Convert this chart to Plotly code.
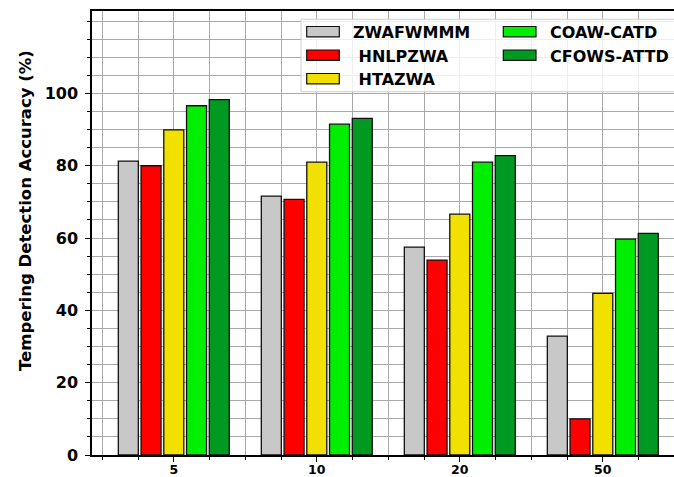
import plotly.graph_objects as go

# Dataset sizes on the x axis and accuracy (%) per method
categories = ["5", "10", "20", "50"]
series_names = ["ZWAFWMMM", " HNLPZWA", " HTAZWA", "COAW-CATD", "CFOWS-ATTD"]
zwafwmmm = [81.3, 71.6, 57.5, 32.9]
hnlpzwa = [80.0, 70.7, 53.9, 10.0]
htazwa = [89.9, 81.0, 66.6, 44.7]
coaw_catd = [96.6, 91.5, 81.0, 59.7]
cfows_attd = [98.3, 93.1, 82.8, 61.3]
series_values = [zwafwmmm, hnlpzwa, htazwa, coaw_catd, cfows_attd]
colors = ["#c8c8c8", "#ff0000", "#f2e100", "#00ee00", "#009a22"]
y_ticks = [0, 20, 40, 60, 80, 100]

W, H = 674, 477
ML, MR, MT, MB = 92, 0, 11, 22
PW, PH = W - ML - MR, H - MT - MB
FONT = "DejaVu Sans"
GRID = "#a9a9a9"

x_idx = list(range(len(categories)))

fig = go.Figure()
for name, vals, col in zip(series_names, series_values, colors):
    fig.add_trace(go.Bar(
        x=x_idx, y=vals, name=name,
        marker=dict(color=col, line=dict(color="#111111", width=1.3)),
        showlegend=False,
    ))


def px_x(px):
    return (px - ML) / PW


def px_y(py):
    return (H - MB - py) / PH


# Hand-built legend box (two columns, wide swatches)
shapes = [dict(
    type="rect", xref="paper", yref="paper", layer="above",
    x0=px_x(301), x1=px_x(690), y0=px_y(91.7), y1=px_y(19.3),
    line=dict(color="#cfcfcf", width=1), fillcolor="rgba(255,255,255,0.8)",
)]
annotations = []
rows = [31.7, 55.2, 78.7]
slots = [(0, 0), (0, 1), (0, 2), (1, 0), (1, 1)]
col_swatch = [(306.7, 339.3), (503.3, 536.0)]
col_text = [337.0, 534.0]
for (c, r), name, col in zip(slots, series_names, colors):
    cy = rows[r]
    sx0, sx1 = col_swatch[c]
    shapes.append(dict(
        type="rect", xref="paper", yref="paper", layer="above",
        x0=px_x(sx0), x1=px_x(sx1), y0=px_y(cy + 5.2), y1=px_y(cy - 5.2),
        line=dict(color="#111111", width=1.2), fillcolor=col,
    ))
    label = name.replace(" ", "\u00a0")
    annotations.append(dict(
        x=px_x(col_text[c] + 14), y=px_y(cy + 1), xref="paper", yref="paper",
        text=label, showarrow=False, xanchor="left", yanchor="middle",
        font=dict(family=FONT, size=16, color="black", weight="bold"),
    ))

annotations.append(dict(
    x=px_x(26), y=px_y(211), xref="paper", yref="paper",
    text="Tempering Detection Accuracy (%)", textangle=-90, showarrow=False,
    xanchor="center", yanchor="middle",
    font=dict(family=FONT, size=16.5, color="black", weight="bold"),
))

x_lo = -0.572
x_hi = x_lo + PW / 143.0

fig.update_layout(
    width=W, height=H,
    margin=dict(l=ML, r=MR, t=MT, b=MB, pad=0, autoexpand=False),
    paper_bgcolor="white", plot_bgcolor="white",
    barmode="group", bargap=0.205, bargroupgap=0.12,
    shapes=shapes, annotations=annotations,
    showlegend=False,
    xaxis=dict(
        range=[x_lo, x_hi], tickmode="array", tickvals=x_idx, ticktext=categories,
        ticks="outside", ticklen=5, tickwidth=1.3, tickcolor="black",
        showline=True, linecolor="black", linewidth=1.5, mirror=True,
        showgrid=True, gridcolor=GRID, gridwidth=1.2, zeroline=False,
        tickfont=dict(family=FONT, size=12.5, color="black", weight="bold"),
        ticklabelstandoff=-3, automargin=False,
        minor=dict(tickmode="linear", tick0=0, dtick=0.25, ticks="outside",
                   ticklen=3, tickwidth=1, tickcolor="black",
                   showgrid=True, gridcolor=GRID, gridwidth=1.2),
    ),
    yaxis=dict(
        range=[0, 122.8], tickmode="array", tickvals=y_ticks,
        ticks="outside", ticklen=5, tickwidth=1.3, tickcolor="black",
        showline=True, linecolor="black", linewidth=1.5, mirror=False,
        showgrid=True, gridcolor=GRID, gridwidth=1.2, zeroline=False,
        tickfont=dict(family=FONT, size=16, color="black", weight="bold"),
        ticklabelstandoff=4, automargin=False,
        minor=dict(tickmode="linear", tick0=0, dtick=5, ticks="outside",
                   ticklen=3, tickwidth=1, tickcolor="black",
                   showgrid=True, gridcolor=GRID, gridwidth=1.2),
    ),
)

fig.write_html("out.html")
